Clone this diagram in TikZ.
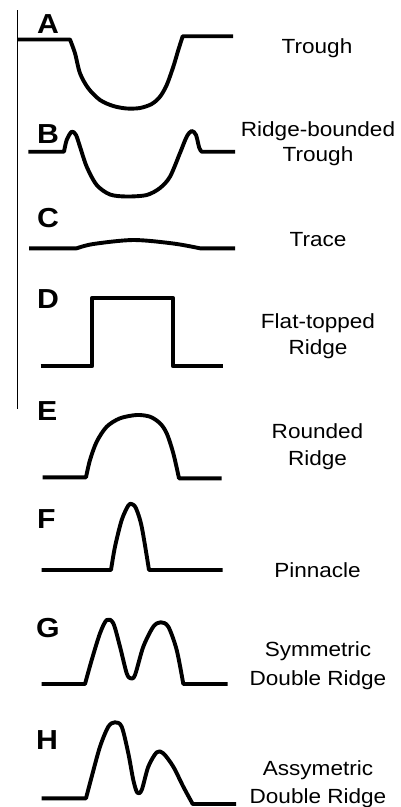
\documentclass[tikz,border=0pt]{standalone}
\usepackage{fontspec}
\setmainfont{Liberation Sans}
\newcommand{\wx}[1]{\scalebox{1.1}[1]{#1}}
\newcommand{\wl}[1]{\scalebox{1.1}[1]{#1}}
\tikzset{
  prof/.style={line width=3.9pt, line join=round, line cap=butt},
  letter/.style={anchor=base west, inner sep=0pt, font=\fontsize{27.5}{30}\selectfont\bfseries},
  lbl/.style={anchor=base, inner sep=0pt, font=\fontsize{20.5}{24}\selectfont},
  axis/.style={line width=1.2pt}
}
\begin{document}
\begin{tikzpicture}[x=1pt,y=-1pt]
\useasboundingbox (0,0) rectangle (400,807);
% vertical line
\coordinate (vt) at (17.3,10);
\coordinate (vb) at (17.3,409);
\draw[axis] (vt) -- (vb);

% letters
\node[letter] (LA) at (37,33) {\wl{A}};
\node[letter] (LB) at (37,143) {\wl{B}};
\node[letter] (LC) at (37,227) {\wl{C}};
\node[letter] (LD) at (37,308) {\wl{D}};
\node[letter] (LE) at (37,420) {\wl{E}};
\node[letter] (LF) at (37,528) {\wl{F}};
\node[letter] (LG) at (36,637) {\wl{G}};
\node[letter] (LH) at (36,749) {\wl{H}};

% labels
\node[lbl] (tA) at (317,53) {\wx{Trough}};
\node[lbl] (tB1) at (318,136) {\wx{Ridge-bounded}};
\node[lbl] (tB2) at (318,161.7) {\wx{Trough}};
\node[lbl] (tC) at (318,246.7) {\wx{Trace}};
\node[lbl] (tD1) at (318,328) {\wx{Flat-topped}};
\node[lbl] (tD2) at (318,354) {\wx{Ridge}};
\node[lbl] (tE1) at (317.5,438) {\wx{Rounded}};
\node[lbl] (tE2) at (317.5,465) {\wx{Ridge}};
\node[lbl] (tF) at (317.5,577) {\wx{Pinnacle}};
\node[lbl] (tG1) at (318,656.7) {\wx{Symmetric}};
\node[lbl] (tG2) at (318,685) {\wx{Double Ridge}};
\node[lbl] (tH1) at (318,775) {\wx{Assymetric}};
\node[lbl] (tH2) at (318,803) {\wx{Double Ridge}};

% A trough
\draw[prof] (17,39.5) -- plot[smooth,tension=0.5] coordinates {(70,39.5) (75,53.3) (80,73.3) (88.3,88.3) (100,100) (113.3,106) (126.7,108.5) (140,108) (151.7,104) (160,96.7) (166.7,85) (173.3,66.7) (178.3,50) (182.7,36.2)} -- (233,36.2);

% B ridge-bounded trough
\draw[prof] (28.3,151.7) -- plot[smooth,tension=0.5] coordinates {(64,151.7) (66.7,140) (71.7,131.7) (76,135) (80,146.7) (86.7,166.7) (96.7,185) (110,194.5) (126.7,196.5) (146.7,195) (160,188) (170,176.7) (180,153) (186.7,136.7) (191.7,131) (196,135) (199.3,148) (201.7,151.7)} -- (235,151.7);

% C trace
\draw[prof] (29,248.3) -- plot[smooth,tension=0.5] coordinates {(76.7,248.3) (93.3,244) (133.3,240) (173.3,243.5) (200,248.3)} -- (235,248.3);

% D flat-topped ridge
\draw[prof] (40.7,366) -- (92.3,366) -- (92.3,297.7) -- (172.7,297.7) -- (172.7,366) -- (222.7,366);

% E rounded ridge
\draw[prof] (42.7,477.3) -- plot[smooth,tension=0.5] coordinates {(86,477.3) (90,460) (96.7,441.7) (106.7,426.7) (120,418.3) (136.7,415) (150,416.7) (160,423.3) (166.7,433.3) (173.3,453.3) (179,478.3)} -- (221.7,478.3);

% F pinnacle
\draw[prof] (41.7,570) -- plot[smooth,tension=0.5] coordinates {(111,570) (115,546.7) (121.7,520) (128.3,505.5) (131.7,504) (136,508.3) (141.7,526.7) (149,570)} -- (222.7,570);

% G symmetric double ridge
\draw[prof] (41.7,684) -- plot[smooth,tension=0.5] coordinates {(85,684) (91.7,660) (100,633.3) (106.7,620) (113.3,623.3) (120,646.7) (126.7,673.3) (130.7,678.3) (135,675) (143.3,646.7) (153.3,626.7) (160.7,622.3) (168.3,626.7) (176.7,650) (183.3,684)} -- (227.7,684);

% H asymmetric double ridge
\draw[prof] (41.7,798.3) -- plot[smooth,tension=0.5] coordinates {(86,798.3) (91.7,776.7) (100,746.7) (108.3,726.7) (115,722.3) (121.7,726.7) (128.3,753.3) (133.3,780) (137.3,792.7) (141.7,790) (148.3,766.7) (156.7,752.3) (163.3,753.3) (173.3,766.7) (183.3,786.7) (192.7,804)} -- (236,804);
\end{tikzpicture}
\end{document}
